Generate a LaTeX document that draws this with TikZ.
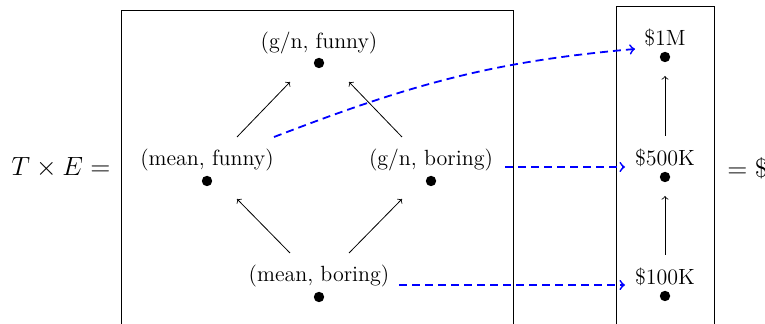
\documentclass[tikz,border=0pt]{standalone}
\usetikzlibrary{calc}
\begin{document}
\begin{tikzpicture}[x=0.5pt,y=-0.5pt,
  lbl/.style={inner sep=0pt,font=\fontsize{11}{13}\selectfont},
  dot/.style={circle,fill=black,inner sep=0pt,minimum size=5.2pt},
  arr/.style={->,line width=0.4pt},
  blu/.style={->,blue,line width=0.9pt,dash pattern=on 4pt off 2.5pt},
  eqn/.style={inner sep=0pt,font=\fontsize{12.7}{15}\selectfont,scale=1.1}]
\useasboundingbox (0,0) rectangle (765,324);
% boxes
\draw[line width=0.45pt] (121,10) rectangle (513,345);
\draw[line width=0.45pt] (616,6) rectangle (714,345);
% left lattice
\node[lbl] (gfl) at (319,43) {(g/n, funny)};
\node[dot] (gfd) at (319,63) {};
\node[lbl] (mfl) at (207,160) {(mean, funny)};
\node[dot] (mfd) at (207,181) {};
\node[lbl] (gbl) at (431,160) {(g/n, boring)};
\node[dot] (gbd) at (431,181) {};
\node[lbl] (mbl) at (319,276) {(mean, boring)};
\node[dot] (mbd) at (319,297) {};
% right chain
\node[lbl] (ml) at (665,38) {\$1M};
\node[dot] (md) at (665,57) {};
\node[lbl] (kl5) at (665,158) {\$500K};
\node[dot] (kd5) at (665,177) {};
\node[lbl] (kl1) at (665,277) {\$100K};
\node[dot] (kd1) at (665,296) {};
% equations
\node[eqn] (te) at (61,168) {$T\times E=$};
\node[eqn,anchor=west] (eq) at (727,168) {$=\$$};
% black arrows
\draw[arr] ($(mfl)+(30,-23)$) -- ($(gfl)+(-29,39)$);
\draw[arr] ($(gbl)+(-29,-23)$) -- ($(gfl)+(30,39)$);
\draw[arr] ($(mbl)+(-29,-23)$) -- ($(mfl)+(30,39)$);
\draw[arr] ($(mbl)+(30,-23)$) -- ($(gbl)+(-29,39)$);
\draw[arr] ($(kl1)+(0,-22)$) -- ($(kl5)+(0,38)$);
\draw[arr] ($(kl5)+(0,-22)$) -- ($(ml)+(0,38)$);
% blue dashed arrows
\draw[blu] ($(mfl)+(67,-23)$) to[out=21,in=185] ($(ml)+(-30,11)$);
\draw[blu] ($(gbl)+(74,7)$) -- ($(kl5)+(-40,9)$);
\draw[blu] ($(mbl)+(80,9)$) -- ($(kl1)+(-40,8)$);
\end{tikzpicture}
\end{document}
